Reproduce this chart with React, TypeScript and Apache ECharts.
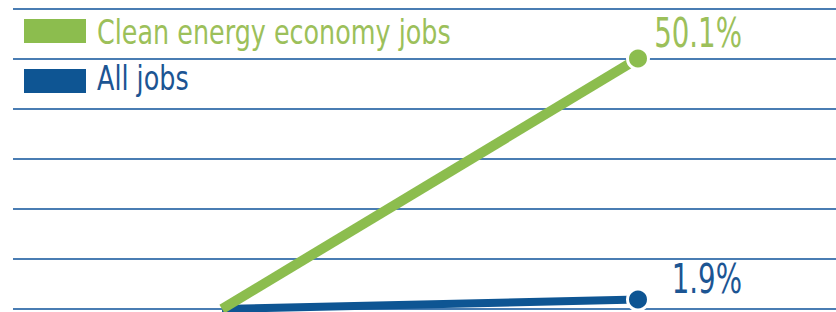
import React, { useEffect, useRef } from "react";
import * as echarts from "echarts";

const seriesNames = ["Clean energy economy jobs", "All jobs"];
const xPositions = [0, 1];
const cleanEnergyValues = [0, 50.1];
const allJobsValues = [0, 1.9];
const yTicks = { min: 0, max: 60, interval: 10 };

const GREEN = "#8cbd4e";
const GREEN_TEXT = "#9cc05a";
const BLUE = "#0e5593";
const BLUE_TEXT = "#1c5593";
const GRID = "#4a7db3";
const FONT = "'Liberation Sans Narrow', 'DejaVu Sans Condensed', sans-serif";

export default function App() {
  const ref = useRef<HTMLDivElement>(null);
  useEffect(() => {
    if (!ref.current) return;
    const chart = echarts.init(ref.current, null, { renderer: "svg" });
    const mkData = (vals: number[]) =>
      vals.map((v, i) => ({
        value: [xPositions[i], v],
        symbolSize: i === vals.length - 1 ? 21 : 0,
      }));
    chart.setOption({
      animation: false,
      grid: { left: 13, right: 0, top: 9, bottom: 3, containLabel: false },
      xAxis: {
        type: "value",
        min: -0.5024,
        max: 1.476,
        show: false,
        splitLine: { show: false },
      },
      yAxis: {
        type: "value",
        min: yTicks.min,
        max: yTicks.max,
        interval: yTicks.interval,
        axisLine: { show: false },
        axisTick: { show: false },
        axisLabel: { show: false },
        splitLine: { show: true, lineStyle: { color: GRID, width: 2 } },
      },
      series: [
        {
          name: seriesNames[1],
          type: "line",
          color: BLUE,
          symbol: "circle",
          lineStyle: { color: BLUE, width: 8 },
          itemStyle: { color: BLUE, borderColor: "#fff", borderWidth: 3 },
          data: mkData(allJobsValues),
          z: 3,
        },
        {
          name: seriesNames[0],
          type: "line",
          color: GREEN,
          symbol: "circle",
          lineStyle: { color: GREEN, width: 10 },
          itemStyle: { color: GREEN, borderColor: "#fff", borderWidth: 3 },
          data: mkData(cleanEnergyValues),
          z: 4,
        },
      ],
    });

    const lastG = cleanEnergyValues.length - 1;
    const lastB = allJobsValues.length - 1;
    const pG = chart.convertToPixel({ gridIndex: 0 }, [xPositions[lastG], cleanEnergyValues[lastG]]) as number[];
    const pB = chart.convertToPixel({ gridIndex: 0 }, [xPositions[lastB], allJobsValues[lastB]]) as number[];

    const txt = (
      text: string,
      x: number,
      y: number,
      color: string,
      size: number,
      scaleX: number,
      align: string
    ) => ({
      type: "text",
      x,
      y,
      scaleX,
      z: 10,
      style: {
        text,
        x: 0,
        y: 0,
        fill: color,
        fontFamily: FONT,
        fontSize: size,
        align,
        textAlign: align,
        verticalAlign: "middle",
        textVerticalAlign: "middle",
      },
    });

    chart.setOption({
      graphic: [
        { type: "rect", shape: { x: 24, y: 19, width: 62, height: 24 }, style: { fill: GREEN }, z: 10 },
        { type: "rect", shape: { x: 24, y: 69, width: 62, height: 24 }, style: { fill: BLUE }, z: 10 },
        txt(seriesNames[0], 97, 32, GREEN_TEXT, 33, 0.857, "left"),
        txt(seriesNames[1], 97, 78, BLUE_TEXT, 33, 0.857, "left"),
        txt(`${cleanEnergyValues[lastG]}%`, pG[0] + 104, pG[1] - 26, GREEN_TEXT, 41, 0.75, "right"),
        txt(`${allJobsValues[lastB]}%`, pB[0] + 104, pB[1] - 21, BLUE_TEXT, 41, 0.75, "right"),
      ],
    });
    return () => chart.dispose();
  }, []);
  return (
    <div
      ref={ref}
      style={{ position: "fixed", left: 0, top: 0, width: 836, height: 312, background: "#fff" }}
    />
  );
}
